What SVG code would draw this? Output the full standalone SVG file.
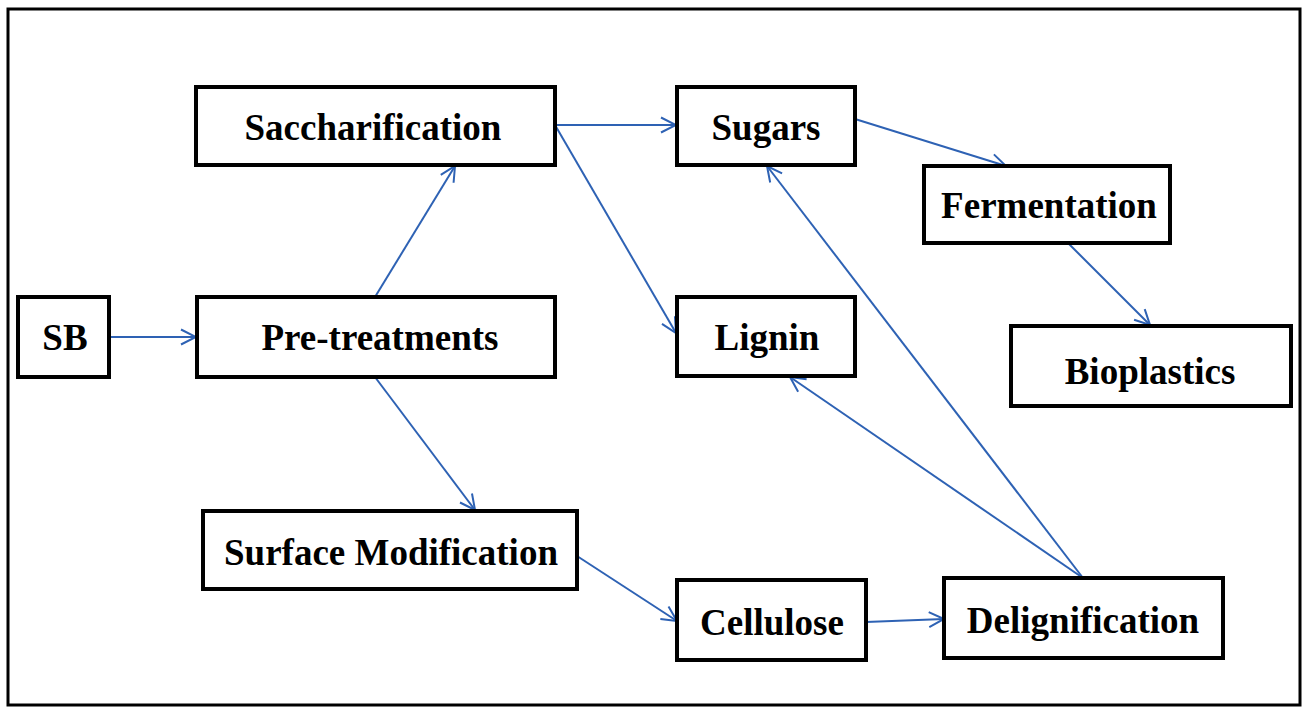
<svg xmlns="http://www.w3.org/2000/svg" width="1303" height="709" viewBox="0 0 1303 709">
<style>
.box{fill:#fff;stroke:#000;stroke-width:4}
.lbl{font-family:"Liberation Serif","Times New Roman",serif;font-weight:bold;font-size:37px;fill:#000;text-anchor:middle}
.c{stroke:#2E62B4;stroke-width:2;fill:none;marker-end:url(#ah)}
</style>
<defs>
<marker id="ah" viewBox="0 0 20 20" refX="18" refY="10" markerWidth="20" markerHeight="20" markerUnits="userSpaceOnUse" orient="auto">
<path d="M3,2.5 L18,10 L3,17.5" fill="none" stroke="#2E62B4" stroke-width="2"/>
</marker>
</defs>
<rect x="0" y="0" width="1303" height="709" fill="#fff"/>
<rect x="8" y="9" width="1292" height="696" fill="none" stroke="#000" stroke-width="3"/>
<g id="connectors">
<line class="c" x1="109" y1="337" x2="196" y2="337"/>
<line class="c" x1="375" y1="297" x2="455" y2="166"/>
<line class="c" x1="555" y1="125" x2="676" y2="125"/>
<line class="c" x1="555" y1="125" x2="676" y2="333"/>
<line class="c" x1="855" y1="119" x2="1006" y2="166"/>
<line class="c" x1="1068" y1="243" x2="1150" y2="325"/>
<line class="c" x1="375" y1="377" x2="475" y2="510"/>
<line class="c" x1="577" y1="556" x2="677" y2="621"/>
<line class="c" x1="866" y1="622" x2="944" y2="619"/>
<line class="c" x1="1083" y1="578" x2="767" y2="166"/>
<line class="c" x1="1083" y1="578" x2="790" y2="377"/>
</g>
<g id="sb"><rect class="box" x="18" y="297" width="91" height="80"/><text class="lbl" x="65" y="350">SB</text></g>
<g id="saccharification"><rect class="box" x="196" y="87" width="359" height="78"/><text class="lbl" x="373" y="140">Saccharification</text></g>
<g id="pretreatments"><rect class="box" x="197" y="297" width="358" height="80"/><text class="lbl" x="380" y="350">Pre-treatments</text></g>
<g id="sugars"><rect class="box" x="677" y="87" width="178" height="78"/><text class="lbl" x="766" y="140">Sugars</text></g>
<g id="lignin"><rect class="box" x="677" y="297" width="178" height="79"/><text class="lbl" x="767" y="350">Lignin</text></g>
<g id="fermentation"><rect class="box" x="924" y="166" width="246" height="77"/><text class="lbl" x="1049" y="218">Fermentation</text></g>
<g id="bioplastics"><rect class="box" x="1011" y="326" width="280" height="80"/><text class="lbl" x="1150" y="384">Bioplastics</text></g>
<g id="surface"><rect class="box" x="203" y="511" width="374" height="78"/><text class="lbl" x="391" y="565">Surface Modification</text></g>
<g id="cellulose"><rect class="box" x="677" y="580" width="189" height="80"/><text class="lbl" x="772" y="635">Cellulose</text></g>
<g id="delignification"><rect class="box" x="944" y="578" width="279" height="80"/><text class="lbl" x="1083" y="633">Delignification</text></g>
</svg>
